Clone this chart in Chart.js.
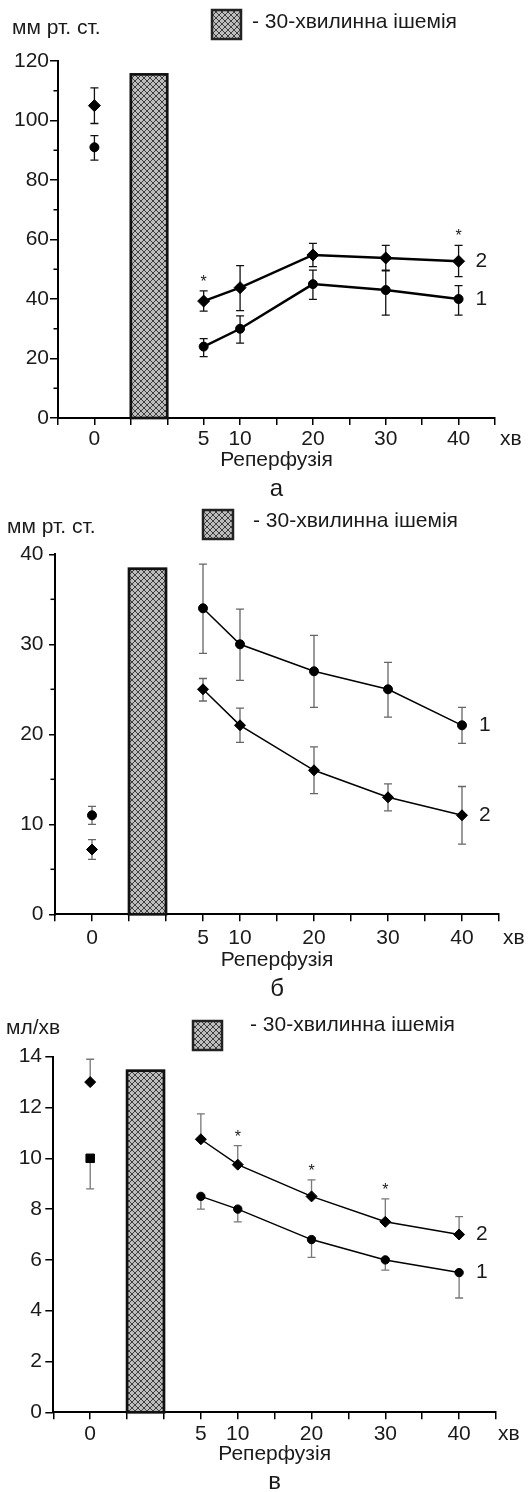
<!DOCTYPE html>
<html><head><meta charset="utf-8">
<script src="https://cdn.jsdelivr.net/npm/chart.js@4"></script>
<style>
html,body{margin:0;padding:0;background:#fff;}
body{width:532px;height:1492px;position:relative;overflow:hidden;}
canvas{position:absolute;left:0;}
</style></head><body>
<canvas id="ca" width="532" height="500" style="top:0px"></canvas>
<canvas id="cb" width="532" height="500" style="top:500px"></canvas>
<canvas id="cc" width="532" height="492" style="top:1000px"></canvas>
<script>
// ---------- shared labels ----------
const timeLabels  = ['0', '5', '10', '20', '30', '40'];               // minutes (0 = before ischemia)
const xTickLabels = ['', '0', '', '', '5', '10', '', '20', '', '30', '', '40', ''];
const ischemiaSlots = [2, 3];                                       // category slots covered by the ischemia bar
const legendText = '- 30-хвилинна ішемія';
const xTitle = 'Реперфузія';
const xUnit = 'хв';
const seriesNames = ['1', '2'];

// ---------- panel а (мм рт. ст.) ----------
const aS1   = [91, 24, 30, 45, 43, 40];
const aS1Hi = [94.9, 26.7, 34.3, 49.7, 49.5, 44.5];
const aS1Lo = [86.7, 20.6, 25.2, 39.9, 34.6, 34.6];
const aS2   = [105, 39.3, 43.8, 54.8, 53.8, 52.7];
const aS2Hi = [111, 42.7, 51.2, 58.7, 58.0, 58.0];
const aS2Lo = [99, 35.9, 36.1, 50.9, 49.7, 47.5];
const aIschemia = 115.5;
const aSigS2 = ['5', '40'];

// ---------- panel б (мм рт. ст.) ----------
const bS1   = [11.0, 34.0, 30.0, 27.0, 25.0, 21.0];
const bS1Hi = [12.0, 38.9, 33.9, 31.0, 28.0, 23.0];
const bS1Lo = [10.0, 29.0, 26.0, 23.0, 21.9, 19.0];
const bS2   = [7.2, 25.0, 21.0, 16.0, 13.0, 11.0];
const bS2Hi = [8.3, 26.2, 22.9, 18.6, 14.5, 14.2];
const bS2Lo = [6.1, 23.7, 19.1, 13.4, 11.5, 7.8];
const bIschemia = 38.4;
const bSigS2 = [];

// ---------- panel в (мл/хв) ----------
const cS1   = [10.0, 8.5, 8.0, 6.8, 6.0, 5.5];
const cS1Hi = [null, null, null, null, null, null];
const cS1Lo = [8.8, 8.0, 7.5, 6.1, 5.6, 4.5];
const cS2   = [13.0, 10.75, 9.75, 8.5, 7.5, 7.0];
const cS2Hi = [13.9, 11.75, 10.5, 9.15, 8.4, 7.7];
const cS2Lo = [null, null, null, null, null, null];
const cIschemia = 13.45;
const cSigS2 = ['10', '20', '30'];

const FONT = '"Liberation Sans", Arial, sans-serif';
const FS = 21;
const INK = '#1a1a1a';
Chart.defaults.font.family = FONT;
Chart.defaults.color = INK;

function makePattern(ctx) {
  const c = document.createElement('canvas');
  c.width = 6; c.height = 6;
  const g = c.getContext('2d');
  g.fillStyle = '#bdbdbd';
  g.fillRect(0, 0, 6, 6);
  g.strokeStyle = '#303030';
  g.lineWidth = 0.9;
  g.beginPath();
  for (const k of [-6, 0, 6]) {
    g.moveTo(k - 1, -1); g.lineTo(k + 7, 7);
    g.moveTo(k + 7, -1); g.lineTo(k - 1, 7);
  }
  g.stroke();
  return ctx.createPattern(c, 'repeat');
}

function makeAnnot(p) {
  return {
    id: 'annot',
    beforeDatasetsDraw(chart) {
      const { ctx, scales: { x, y } } = chart;
      const pat = makePattern(ctx);
      // ischemia bar
      const l = x.getPixelForValue(ischemiaSlots[0]);
      const r = x.getPixelForValue(ischemiaSlots[1]);
      const t = y.getPixelForValue(p.ischemia);
      const b = y.getPixelForValue(0);
      ctx.save();
      ctx.fillStyle = pat;
      ctx.fillRect(l, t, r - l, b - t);
      ctx.lineWidth = 2.7;
      ctx.strokeStyle = '#111';
      ctx.strokeRect(l, t, r - l, b - t);
      // error bars
      ctx.strokeStyle = p.errColor;
      ctx.lineWidth = 1.3;
      p.series.forEach((s, di) => {
        const meta = chart.getDatasetMeta(di);
        s.vals.forEach((v, i) => {
          const el = meta.data[i];
          const py = y.getPixelForValue(v);
          [s.hi[i], s.lo[i]].forEach(e => {
            if (e === null || e === undefined) return;
            const ey = y.getPixelForValue(e);
            ctx.beginPath();
            ctx.moveTo(el.x, py); ctx.lineTo(el.x, ey);
            ctx.moveTo(el.x - 4, ey); ctx.lineTo(el.x + 4, ey);
            ctx.stroke();
          });
        });
      });
      ctx.restore();
    },
    afterDraw(chart) {
      const { ctx, chartArea: ca, scales: { y } } = chart;
      const pat = makePattern(ctx);
      ctx.save();
      // minor y ticks
      ctx.strokeStyle = '#000';
      ctx.lineWidth = 1.5;
      y.ticks.forEach(tk => {
        if (Math.abs(tk.value % p.labelStep) > 1e-6) {
          const py = y.getPixelForValue(tk.value);
          ctx.beginPath();
          ctx.moveTo(ca.left - 4.5, py); ctx.lineTo(ca.left, py);
          ctx.stroke();
        }
      });
      ctx.fillStyle = INK;
      // unit label
      ctx.font = FS + 'px ' + FONT;
      ctx.textAlign = 'left';
      ctx.textBaseline = 'middle';
      ctx.fillText(p.unit, p.unitX, p.unitY);
      // legend
      ctx.fillStyle = pat;
      ctx.fillRect(p.leg[0], p.leg[1], p.leg[2], p.leg[3]);
      ctx.lineWidth = 2.5;
      ctx.strokeStyle = '#222';
      ctx.strokeRect(p.leg[0], p.leg[1], p.leg[2], p.leg[3]);
      ctx.fillStyle = INK;
      ctx.fillText(legendText, p.legText[0], p.legText[1]);
      // x unit
      const labY = ca.bottom + 7 + p.xPad + FS * 0.6;
      ctx.fillText(xUnit, ca.right + p.xUnitOff, labY);
      // series end labels + significance marks
      p.series.forEach((s, di) => {
        const meta = chart.getDatasetMeta(di);
        const last = meta.data[meta.data.length - 1];
        ctx.font = FS + 'px ' + FONT;
        ctx.textBaseline = 'middle';
        ctx.textAlign = 'left';
        ctx.fillText(seriesNames[di], last.x + 17, last.y);
        ctx.font = '16px ' + FONT;
        ctx.textAlign = 'center';
        ctx.textBaseline = 'alphabetic';
        s.sig.forEach(m => {
          const i = timeLabels.indexOf(m);
          const el = meta.data[i];
          const top = y.getPixelForValue(s.hi[i] !== null ? s.hi[i] : s.vals[i]);
          ctx.fillText('*', el.x, top - 4);
        });
      });
      // panel letter
      ctx.font = '24px ' + FONT;
      ctx.textAlign = 'center';
      ctx.textBaseline = 'alphabetic';
      ctx.fillText(p.letter, (ca.left + ca.right) / 2, p.letterY);
      ctx.restore();
    }
  };
}

function build(id, p) {
  const ctx = document.getElementById(id).getContext('2d');
  const datasets = p.series.map(s => ({
    data: timeLabels.map((t, i) => ({ x: t, y: s.vals[i] })),
    borderColor: '#000',
    backgroundColor: '#000',
    borderWidth: p.lineWidth,
    pointStyle: c => (c.dataIndex === 0 && s.baseStyle) ? s.baseStyle : s.style,
    pointRadius: c => (c.dataIndex === 0 && s.baseRadius) ? s.baseRadius : s.radius,
    pointBackgroundColor: '#000',
    pointBorderColor: '#000',
    pointBorderWidth: 1,
    tension: 0,
    clip: false,
    segment: { borderColor: c => c.p0DataIndex === 0 ? 'rgba(0,0,0,0)' : undefined }
  }));
  return new Chart(ctx, {
    type: 'line',
    data: { labels: xTickLabels, datasets },
    options: {
      responsive: false,
      devicePixelRatio: 1,
      animation: false,
      events: [],
      layout: { padding: p.pad },
      plugins: { legend: { display: false }, tooltip: { enabled: false } },
      scales: {
        x: {
          type: 'category',
          offset: false,
          afterFit: s => { s.height = p.xH; },
          grid: { display: true, drawOnChartArea: false, drawTicks: true, tickLength: 7, color: '#000', lineWidth: 1.5 },
          border: { display: true, color: '#000', width: 2 },
          ticks: { autoSkip: false, maxRotation: 0, padding: p.xPad, font: { size: FS }, color: INK },
          title: { display: true, text: xTitle, font: { size: FS }, color: INK, padding: 0 }
        },
        y: {
          type: 'linear',
          min: 0, max: p.yMax,
          afterFit: s => { s.width = p.yW; },
          grid: { display: true, drawOnChartArea: false, drawTicks: true, tickLength: p.majorLen, lineWidth: 1.5,
                  tickColor: c => (Math.abs(c.tick.value % p.labelStep) < 1e-6) ? '#000' : 'rgba(0,0,0,0)' },
          border: { display: true, color: '#000', width: 2 },
          ticks: { stepSize: p.step, padding: p.yPad, font: { size: FS }, color: INK,
                   callback: v => (Math.abs(v % p.labelStep) < 1e-6) ? v : '' }
        }
      }
    },
    plugins: [makeAnnot(p)]
  });
}

build('ca', {
  series: [
    { vals: aS1, hi: aS1Hi, lo: aS1Lo, style: 'circle', radius: 4.5, sig: [] },
    { vals: aS2, hi: aS2Hi, lo: aS2Lo, style: 'rectRot', radius: 6, sig: aSigS2 }
  ],
  ischemia: aIschemia, errColor: '#111', lineWidth: 2.5,
  pad: { left: 8, right: 37, top: 61, bottom: 27.4 }, yW: 50, xH: 54.6,
  yMax: 120, step: 10, labelStep: 20, majorLen: 8, yPad: 1, xPad: 1.5,
  unit: 'мм рт. ст.', unitX: 12, unitY: 28,
  leg: [212, 10, 29, 29], legText: [252, 22],
  xUnitOff: 5, letter: 'а', letterY: 496
});

build('cb', {
  series: [
    { vals: bS1, hi: bS1Hi, lo: bS1Lo, style: 'circle', radius: 4.5, sig: [] },
    { vals: bS2, hi: bS2Hi, lo: bS2Lo, style: 'rectRot', radius: 5.5, sig: bSigS2 }
  ],
  ischemia: bIschemia, errColor: '#666', lineWidth: 1.5,
  pad: { left: 5, right: 33, top: 54.3, bottom: 27.1 }, yW: 50, xH: 58.6,
  yMax: 40, step: 5, labelStep: 10, majorLen: 6, yPad: 5.5, xPad: 4.5,
  unit: 'мм рт. ст.', unitX: 7, unitY: 27,
  leg: [203, 10, 30, 29], legText: [253, 21],
  xUnitOff: 4, letter: 'б', letterY: 496
});

build('cc', {
  series: [
    { vals: cS1, hi: cS1Hi, lo: cS1Lo, style: 'circle', baseStyle: 'rect', baseRadius: 6, radius: 4.2, sig: [] },
    { vals: cS2, hi: cS2Hi, lo: cS2Lo, style: 'rectRot', radius: 5.5, sig: cSigS2 }
  ],
  ischemia: cIschemia, errColor: '#777', lineWidth: 1.5,
  pad: { left: 5.3, right: 36, top: 56.7, bottom: 25.1 }, yW: 48, xH: 54.6,
  yMax: 14, step: 1, labelStep: 2, majorLen: 8, yPad: 3.3, xPad: 2.5,
  unit: 'мл/хв', unitX: 6, unitY: 28,
  leg: [193, 21, 29, 29], legText: [250, 25],
  xUnitOff: 2, letter: 'в', letterY: 489
});
</script>
</body></html>
